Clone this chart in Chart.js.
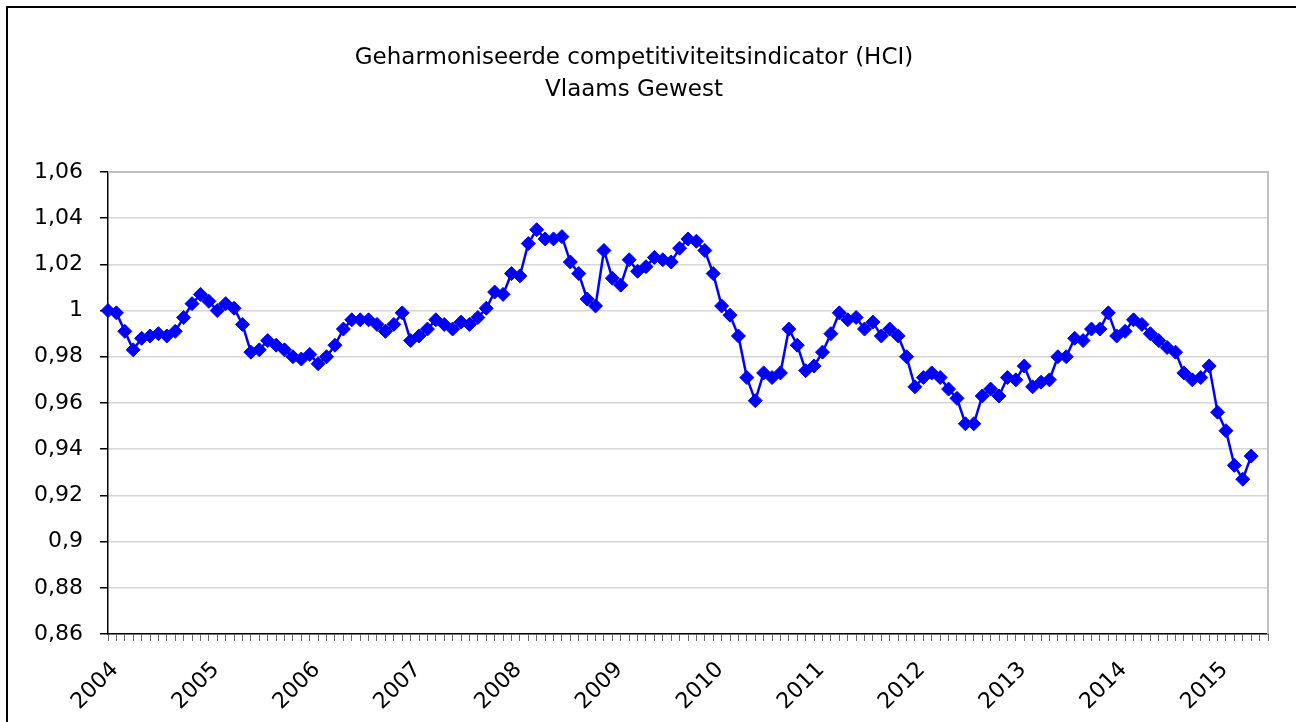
<!DOCTYPE html>
<html>
<head>
<meta charset="utf-8">
<title>HCI Vlaams Gewest</title>
<script src="https://cdn.jsdelivr.net/npm/chart.js@4.4.1/dist/chart.umd.min.js"></script>
<style>
  html, body { margin: 0; padding: 0; background: #fff; }
  #wrap { position: relative; width: 1296px; height: 722px; }
</style>
</head>
<body>
<div id="wrap"><canvas id="hci-chart" width="1296" height="722"></canvas></div>
<script>
// Chart text
const titleLines = ['Geharmoniseerde competitiviteitsindicator (HCI)', 'Vlaams Gewest'];

// Year labels on the category axis (one label per January)
const years = ['2004', '2005', '2006', '2007', '2008', '2009', '2010', '2011', '2012', '2013', '2014', '2015'];
const categoryCount = 139; // monthly slots, 2004-01 .. 2015-07

// Y axis ticks
const yTicks = [0.86, 0.88, 0.90, 0.92, 0.94, 0.96, 0.98, 1.00, 1.02, 1.04, 1.06];

// Monthly HCI values, 2004-01 .. 2015-05
const hci2004 = [1.000, 0.999, 0.991, 0.983, 0.988, 0.989, 0.990, 0.989, 0.991, 0.997, 1.003, 1.007];
const hci2005 = [1.004, 1.000, 1.003, 1.001, 0.994, 0.982, 0.983, 0.987, 0.985, 0.983, 0.980, 0.979];
const hci2006 = [0.981, 0.977, 0.980, 0.985, 0.992, 0.996, 0.996, 0.996, 0.994, 0.991, 0.994, 0.999];
const hci2007 = [0.987, 0.989, 0.992, 0.996, 0.994, 0.992, 0.995, 0.994, 0.997, 1.001, 1.008, 1.007];
const hci2008 = [1.016, 1.015, 1.029, 1.035, 1.031, 1.031, 1.032, 1.021, 1.016, 1.005, 1.002, 1.026];
const hci2009 = [1.014, 1.011, 1.022, 1.017, 1.019, 1.023, 1.022, 1.021, 1.027, 1.031, 1.030, 1.026];
const hci2010 = [1.016, 1.002, 0.998, 0.989, 0.971, 0.961, 0.973, 0.971, 0.973, 0.992, 0.985, 0.974];
const hci2011 = [0.976, 0.982, 0.990, 0.999, 0.996, 0.997, 0.992, 0.995, 0.989, 0.992, 0.989, 0.980];
const hci2012 = [0.967, 0.971, 0.973, 0.971, 0.966, 0.962, 0.951, 0.951, 0.963, 0.966, 0.963, 0.971];
const hci2013 = [0.970, 0.976, 0.967, 0.969, 0.970, 0.980, 0.980, 0.988, 0.987, 0.992, 0.992, 0.999];
const hci2014 = [0.989, 0.991, 0.996, 0.994, 0.990, 0.987, 0.984, 0.982, 0.973, 0.970, 0.971, 0.976];
const hci2015 = [0.956, 0.948, 0.933, 0.927, 0.937];

const hciValues = [].concat(hci2004, hci2005, hci2006, hci2007, hci2008, hci2009,
  hci2010, hci2011, hci2012, hci2013, hci2014, hci2015);

// Build category labels: year at each January, blank for the other months
const labels = [];
for (let i = 0; i < categoryCount; i++) {
  labels.push(i % 12 === 0 ? years[i / 12] : '');
}

const FONT = 'DejaVu Sans';

// Draws the outer frame and the grey top/right edges of the plot area
const framePlugin = {
  id: 'frame',
  afterDraw(chart) {
    const { ctx, chartArea } = chart;
    ctx.save();
    // plot area top and right edges
    ctx.strokeStyle = '#c0c0c0';
    ctx.lineWidth = 2;
    ctx.beginPath();
    ctx.moveTo(chartArea.left, chartArea.top);
    ctx.lineTo(chartArea.right, chartArea.top);
    ctx.lineTo(chartArea.right, chartArea.bottom);
    ctx.stroke();
    // outer chart frame (left and top sides visible)
    ctx.strokeStyle = '#000';
    ctx.lineWidth = 2;
    ctx.beginPath();
    ctx.moveTo(7, chart.height);
    ctx.lineTo(7, 7);
    ctx.lineTo(chart.width, 7);
    ctx.stroke();
    ctx.restore();
  }
};

const ctx = document.getElementById('hci-chart').getContext('2d');
const chart = new Chart(ctx, {
  type: 'line',
  data: {
    labels: labels,
    datasets: [{
      label: 'HCI',
      data: hciValues,
      borderColor: '#0000ff',
      backgroundColor: '#0000ff',
      borderWidth: 2.5,
      tension: 0,
      pointStyle: 'rectRot',
      pointRadius: 7,
      pointBorderWidth: 1,
      pointBackgroundColor: '#0000ff',
      pointBorderColor: '#0000ff',
      fill: false
    }]
  },
  options: {
    responsive: false,
    animation: false,
    layout: {
      padding: { left: 0, right: 28, top: 0, bottom: 0 }
    },
    plugins: {
      legend: { display: false },
      tooltip: { enabled: false },
      title: {
        display: true,
        text: titleLines,
        color: '#000',
        font: { family: FONT, size: 23, weight: 'normal', lineHeight: 1.39 },
        padding: { top: 42, bottom: 66 }
      }
    },
    scales: {
      x: {
        type: 'category',
        offset: false,
        grid: {
          display: true,
          drawOnChartArea: false,
          drawTicks: true,
          tickLength: 7,
          tickColor: '#666'
        },
        border: { display: true, color: '#000', width: 1.5 },
        ticks: {
          autoSkip: false,
          maxRotation: 45,
          minRotation: 45,
          padding: 16,
          labelOffset: 7,
          color: '#000',
          font: { family: FONT, size: 22 }
        },
        afterFit(scale) {
          scale.height = 88;
          scale.paddingLeft = 0;
          scale.paddingRight = 0;
        }
      },
      y: {
        min: yTicks[0],
        max: yTicks[yTicks.length - 1],
        afterBuildTicks(scale) {
          scale.ticks = yTicks.map(v => ({ value: v }));
        },
        grid: {
          color: '#d6d6d6',
          lineWidth: 1.5,
          tickLength: 8,
          tickColor: '#000'
        },
        border: { display: true, color: '#000', width: 1.5 },
        ticks: {
          padding: 17,
          color: '#000',
          font: { family: FONT, size: 22 },
          callback: v => String(Number(v.toFixed(2))).replace('.', ',')
        },
        afterFit(scale) { scale.width = 108; }
      }
    }
  },
  plugins: [framePlugin]
});
</script>
</body>
</html>
